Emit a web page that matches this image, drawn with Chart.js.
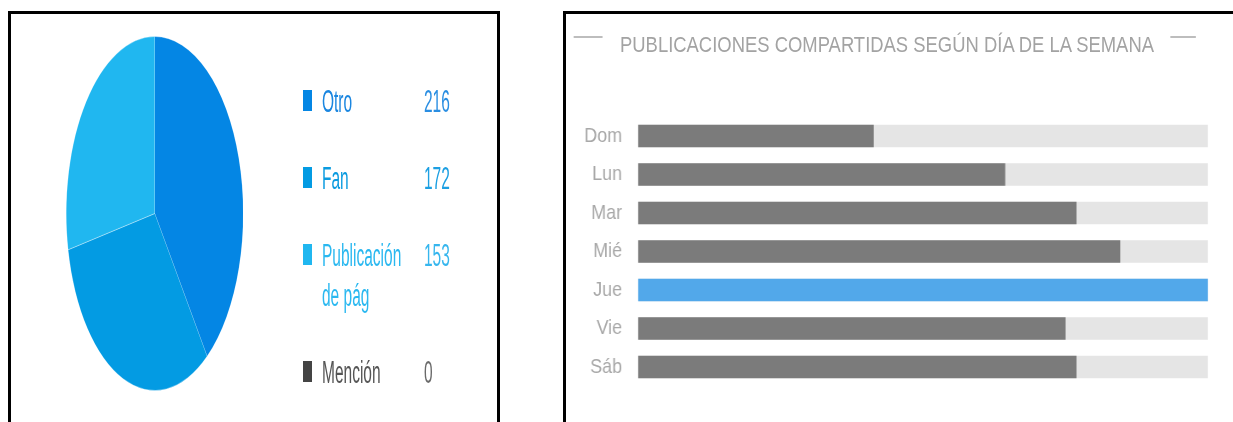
<!DOCTYPE html>
<html>
<head>
<meta charset="utf-8">
<script src="https://cdn.jsdelivr.net/npm/chart.js@4"></script>
<style>
  html, body { margin:0; padding:0; background:#fff; width:1233px; height:422px; overflow:hidden; }
  .panel { position:absolute; border:3px solid #000; border-bottom:none; box-sizing:border-box; overflow:hidden; }
  #leftPanel { left:8px; top:11px; width:492px; height:420px; }
  #rightPanel { left:563px; top:11px; width:700px; height:420px; border-right:none; }
  .squash { position:absolute; left:0; top:0; transform-origin:0 0; }
  #leftSquash { width:972px; height:408px; transform:scaleX(0.5); }
  #rightSquash { width:785px; height:408px; transform:scaleX(0.85); }
  #pie { position:absolute; left:110px; top:22px; }
  #legend { position:absolute; left:584px; top:68px; font-family:"Liberation Sans", Arial, sans-serif; font-size:31px; line-height:40px; }
  .item { display:flex; align-items:flex-start; margin-bottom:37px; }
  .sq { width:18px; height:21px; margin-top:8px; margin-right:20px; flex:none; }
  .lab { width:168px; margin-right:36px; flex:none; }
  .val { flex:none; }
  #title { position:absolute; left:63.5px; top:20px; font-family:"Liberation Sans", Arial, sans-serif; font-size:21.7px; line-height:21.5px; color:#a3a3a3; white-space:nowrap; }
  .dash { position:absolute; top:22px; height:2px; background:#bdbdbd; }
  #bars { position:absolute; left:0; top:0; }
</style>
</head>
<body>
<div id="leftPanel" class="panel">
  <div id="leftSquash" class="squash">
    <canvas id="pie" width="355" height="355"></canvas>
    <div id="legend"></div>
  </div>
</div>
<div id="rightPanel" class="panel">
  <div id="rightSquash" class="squash">
    <div class="dash" style="left:9.4px;width:34px"></div>
    <div id="title"></div>
    <div class="dash" style="left:710.6px;width:30.6px"></div>
    <canvas id="bars" width="785" height="408"></canvas>
  </div>
</div>
<script>
// ---- data ----
const sources = ['Otro', 'Fan', 'Publicación de pág', 'Mención'];
const counts = [216, 172, 153, 0];
const chartTitle = 'PUBLICACIONES COMPARTIDAS SEGÚN DÍA DE LA SEMANA';
const days = ['Dom', 'Lun', 'Mar', 'Mié', 'Jue', 'Vie', 'Sáb'];
const shares = [43, 67, 80, 88, 104, 78, 80];

// ---- styles ----
const sliceColors = ['#0486e4', '#039be3', '#20b7f0', '#444444'];
const labelColors = ['#1a86e0', '#0a9be0', '#2ab8f0', '#555555'];
const valueColors = ['#2a8ee2', '#1c9fe2', '#36b6ee', '#6a6a6a'];

// ---- pie ----
new Chart(document.getElementById('pie'), {
  type: 'pie',
  data: {
    labels: sources,
    datasets: [{
      data: counts,
      backgroundColor: sliceColors,
      borderColor: 'rgba(255,255,255,0.35)',
      borderWidth: 1
    }]
  },
  options: {
    responsive: false,
    animation: false,
    layout: { padding: 0 },
    plugins: { legend: { display: false }, tooltip: { enabled: false } }
  }
});

// ---- legend (text built from data) ----
const legend = document.getElementById('legend');
sources.forEach((s, i) => {
  const row = document.createElement('div');
  row.className = 'item';
  const sq = document.createElement('div');
  sq.className = 'sq';
  sq.style.background = sliceColors[i];
  const lab = document.createElement('div');
  lab.className = 'lab';
  lab.textContent = s;
  lab.style.color = labelColors[i];
  const val = document.createElement('div');
  val.className = 'val';
  val.textContent = counts[i];
  val.style.color = valueColors[i];
  row.appendChild(sq); row.appendChild(lab); row.appendChild(val);
  legend.appendChild(row);
});

// ---- bar chart ----
document.getElementById('title').textContent = chartTitle;
const maxShare = Math.max(...shares);
new Chart(document.getElementById('bars'), {
  type: 'bar',
  data: {
    labels: days,
    datasets: [
      {
        data: shares,
        backgroundColor: shares.map(v => v === maxShare ? '#52a8ea' : '#7b7b7b'),
        grouped: false,
        barPercentage: 0.584,
        categoryPercentage: 1,
        order: 0
      },
      {
        data: shares.map(() => maxShare),
        backgroundColor: '#e5e5e5',
        grouped: false,
        barPercentage: 0.584,
        categoryPercentage: 1,
        order: 1
      }
    ]
  },
  options: {
    indexAxis: 'y',
    responsive: false,
    animation: false,
    layout: { padding: { top: 102.75, bottom: 35.75, left: 0, right: 29.7 } },
    plugins: { legend: { display: false }, tooltip: { enabled: false }, title: { display: false } },
    scales: {
      x: { display: false, min: 0, max: maxShare },
      y: {
        grid: { display: false, drawTicks: false },
        border: { display: false },
        ticks: { color: '#a8a8a8', font: { family: '"Liberation Sans", Arial, sans-serif', size: 21 }, padding: 18.8 },
        afterFit(s) { s.width = 84.7; }
      }
    }
  }
});
</script>
</body>
</html>
